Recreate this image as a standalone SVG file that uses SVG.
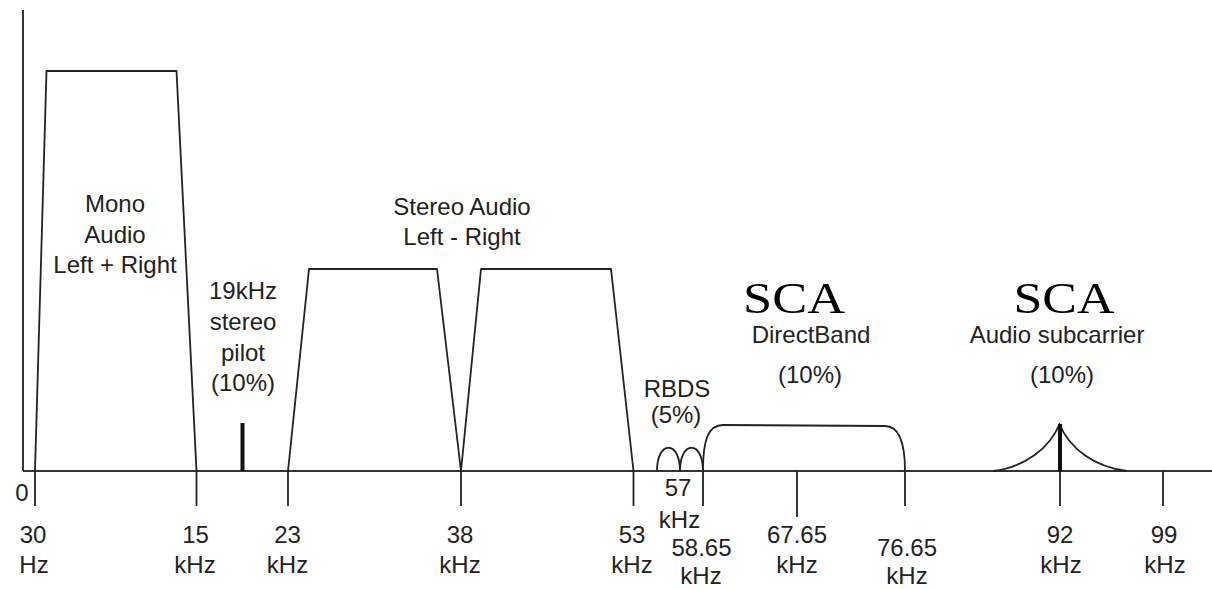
<svg xmlns="http://www.w3.org/2000/svg" width="1212" height="589" viewBox="0 0 1212 589">
<style>
.ln{fill:none;stroke:#222;stroke-width:1.8;stroke-linejoin:round}
.tk{fill:none;stroke:#222;stroke-width:1.8}
.bar{fill:none;stroke:#111;stroke-width:4}
.t{font-family:"Liberation Sans",Arial,sans-serif;font-size:24px;fill:#222;text-anchor:middle}
.sca{font-family:"Liberation Serif","Times New Roman",serif;font-size:45px;fill:#000;text-anchor:middle}
</style>
<rect width="1212" height="589" fill="#fff"/>
<g id="axes">
<line class="tk" x1="23" y1="10" x2="23" y2="471"/>
<line x1="23" y1="471" x2="1212" y2="471" stroke="#333" stroke-width="2.2"/>
<text class="t" x="22" y="501">0</text>
</g>
<g id="ticks">
<line class="tk" x1="35" y1="471" x2="35" y2="506"/>
<line class="tk" x1="196.5" y1="471" x2="196.5" y2="506"/>
<line class="tk" x1="288" y1="471" x2="288" y2="506"/>
<line class="tk" x1="461" y1="471" x2="461" y2="506"/>
<line class="tk" x1="633.5" y1="471" x2="633.5" y2="506"/>
<line class="tk" x1="703" y1="471" x2="703" y2="506"/>
<line class="tk" x1="797" y1="471" x2="797" y2="517"/>
<line class="tk" x1="905" y1="471" x2="905" y2="506"/>
<line class="tk" x1="1060" y1="471" x2="1060" y2="506"/>
<line class="tk" x1="1163" y1="471" x2="1163" y2="506"/>
</g>
<g id="mono">
<path class="ln" d="M35,471 L46.5,71 L176.5,71 L196.5,471"/>
<text class="t" x="115" y="212">Mono</text>
<text class="t" x="115" y="243">Audio</text>
<text class="t" x="115" y="273">Left + Right</text>
</g>
<g id="pilot">
<line class="bar" x1="242.5" y1="423" x2="242.5" y2="471"/>
<text class="t" x="243" y="299">19kHz</text>
<text class="t" x="243" y="330">stereo</text>
<text class="t" x="243" y="361">pilot</text>
<text class="t" x="243" y="391">(10%)</text>
</g>
<g id="stereo">
<path class="ln" d="M288,471 L309,269 L437,269 L461,471 L481,269 L611,269 L633.5,471"/>
<text class="t" x="462" y="215">Stereo Audio</text>
<text class="t" x="462" y="245">Left - Right</text>
</g>
<g id="rbds">
<path class="ln" d="M657,471 C657,440 680,440 680,471 C680,440 703,440 703,471"/>
<text class="t" x="677" y="397">RBDS</text>
<text class="t" x="676" y="423">(5%)</text>
</g>
<g id="directband">
<path class="ln" d="M703,471 C703,440 708,425 723,425 L885,426 C899,426 905,442 905,471"/>
<text class="sca" x="794" y="313" textLength="102" lengthAdjust="spacingAndGlyphs">SCA</text>
<text class="t" x="811" y="343">DirectBand</text>
<text class="t" x="810" y="383">(10%)</text>
</g>
<g id="subcarrier">
<path class="ln" d="M993,471 C1025,467 1050,448 1059.5,424 C1069,448 1094,467 1127,471"/>
<line class="bar" x1="1060" y1="424" x2="1060" y2="471"/>
<text class="sca" x="1064" y="313" textLength="101" lengthAdjust="spacingAndGlyphs">SCA</text>
<text class="t" x="1057" y="343">Audio subcarrier</text>
<text class="t" x="1062" y="383">(10%)</text>
</g>
<g id="labels">
<text class="t" x="33" y="543">30</text><text class="t" x="34" y="573">Hz</text>
<text class="t" x="195.5" y="543">15</text><text class="t" x="195" y="573">kHz</text>
<text class="t" x="287.5" y="543">23</text><text class="t" x="287.5" y="573">kHz</text>
<text class="t" x="460" y="543">38</text><text class="t" x="460" y="573">kHz</text>
<text class="t" x="632" y="543">53</text><text class="t" x="632" y="573">kHz</text>
<text class="t" x="678" y="496">57</text><text class="t" x="679.5" y="528">kHz</text>
<text class="t" x="701.5" y="556">58.65</text><text class="t" x="701" y="584">kHz</text>
<text class="t" x="797" y="543">67.65</text><text class="t" x="797" y="573">kHz</text>
<text class="t" x="907" y="556">76.65</text><text class="t" x="907" y="584">kHz</text>
<text class="t" x="1060" y="543">92</text><text class="t" x="1061" y="573">kHz</text>
<text class="t" x="1164" y="543">99</text><text class="t" x="1165" y="573">kHz</text>
</g>
</svg>
